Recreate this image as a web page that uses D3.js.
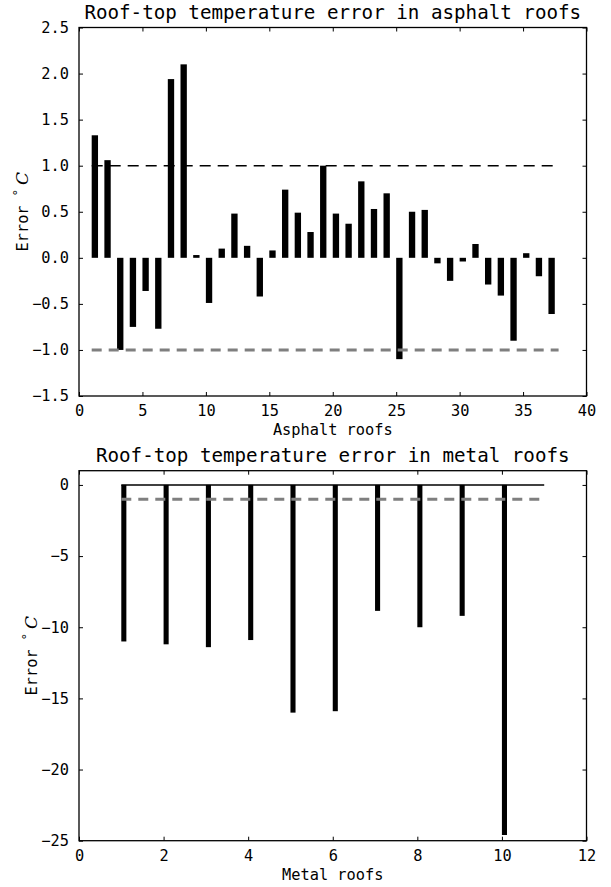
<!DOCTYPE html>
<html>
<head>
<meta charset="utf-8">
<script src="https://cdn.jsdelivr.net/npm/d3@7"></script>
<style>
  body { margin: 0; background: #fff; }
  text { font-family: "DejaVu Sans Mono", monospace; fill: #000; }
</style>
</head>
<body>
<svg id="chart" width="611" height="887"></svg>
<script>
// asphalt roofs, roof number 1..37
var asphaltIds = d3.range(1, 38);
var asphaltErr = [1.33, 1.06, -1.0, -0.75, -0.36, -0.77, 1.94, 2.10, 0.03, -0.49,
  0.10, 0.48, 0.13, -0.42, 0.08, 0.74, 0.49, 0.28, 1.0, 0.48,
  0.37, 0.83, 0.53, 0.70, -1.10, 0.50, 0.52, -0.06, -0.25, -0.04,
  0.15, -0.29, -0.41, -0.90, 0.05, -0.20, -0.61];
var asphaltXTicks = [0, 5, 10, 15, 20, 25, 30, 35, 40];
var asphaltYTicks = [-1.5, -1.0, -0.5, 0.0, 0.5, 1.0, 1.5, 2.0, 2.5];

// metal roofs, roof number 1..10
var metalIds = d3.range(1, 11);
var metalErr = [-11.0, -11.2, -11.4, -10.9, -16.0, -15.9, -8.85, -10.0, -9.2, -24.6];
var metalXTicks = [0, 2, 4, 6, 8, 10, 12];
var metalYTicks = [-25, -20, -15, -10, -5, 0];

var svg = d3.select("#chart");
var left = 79, right = 586.5;

function fmtMinus(s) { return s.replace("-", "\u2212"); }

function panel(opt) {
  var x = d3.scaleLinear().domain(opt.xDomain).range([left, right]);
  var y = d3.scaleLinear().domain(opt.yDomain).range([opt.bottom, opt.top]);
  var g = svg.append("g");

  // bars (left edge at roof number, like old matplotlib bar)
  g.selectAll("rect.bar")
    .data(opt.ids)
    .enter()
    .append("rect")
    .attr("class", "bar")
    .attr("x", function(d) { return x(d); })
    .attr("width", function(d) { return x(d + opt.barW) - x(d); })
    .attr("y", function(d, i) { return y(Math.max(0, opt.values[i])); })
    .attr("height", function(d, i) { return Math.abs(y(opt.values[i]) - y(0)); })
    .attr("fill", "#000");

  // reference lines
  opt.lines.forEach(function(l) {
    g.append("line")
      .attr("x1", x(l.x0)).attr("x2", x(l.x1))
      .attr("y1", y(l.v)).attr("y2", y(l.v))
      .attr("stroke", l.color)
      .attr("stroke-width", l.w)
      .attr("stroke-dasharray", l.dash || null);
  });

  // inward ticks on all four sides
  var tl = 4;
  var xa = g.append("g").attr("transform", "translate(0," + opt.bottom + ")")
    .call(d3.axisBottom(x).tickValues(opt.xTicks).tickSizeInner(-tl).tickSizeOuter(0).tickPadding(9)
      .tickFormat(function(d) { return fmtMinus(d3.format("d")(d)); }));
  var xt = g.append("g").attr("transform", "translate(0," + opt.top + ")")
    .call(d3.axisTop(x).tickValues(opt.xTicks).tickSizeInner(-tl).tickSizeOuter(0).tickFormat(""));
  var ya = g.append("g").attr("transform", "translate(" + left + ",0)")
    .call(d3.axisLeft(y).tickValues(opt.yTicks).tickSizeInner(-tl).tickSizeOuter(0).tickPadding(10)
      .tickFormat(function(d) { return fmtMinus(opt.yFmt(d)); }));
  var yr = g.append("g").attr("transform", "translate(" + right + ",0)")
    .call(d3.axisRight(y).tickValues(opt.yTicks).tickSizeInner(-tl).tickSizeOuter(0).tickFormat(""));
  [xa, xt, ya, yr].forEach(function(a) {
    a.select(".domain").remove();
    a.selectAll(".tick line").attr("stroke", "#000").attr("stroke-width", 1);
    a.selectAll(".tick text").attr("font-size", 15.3).attr("fill", "#000")
      .style("font-family", "DejaVu Sans Mono");
  });
  xa.selectAll(".tick text").attr("dy", "0.71em");

  // frame
  g.append("rect")
    .attr("x", left).attr("y", opt.top)
    .attr("width", right - left).attr("height", opt.bottom - opt.top)
    .attr("fill", "none").attr("stroke", "#000").attr("stroke-width", 1.3);

  // title
  g.append("text")
    .attr("x", (left + right) / 2).attr("y", opt.top - 9)
    .attr("text-anchor", "middle").attr("font-size", 19.2)
    .text(opt.title);

  // x label
  g.append("text")
    .attr("x", (left + right) / 2).attr("y", opt.bottom + 39)
    .attr("text-anchor", "middle").attr("font-size", 15.3)
    .text(opt.xLabel);

  // y label: Error °C
  var yl = g.append("text")
    .attr("transform", "translate(" + opt.yLabelX + "," + ((opt.top + opt.bottom) / 2) + ") rotate(-90)")
    .attr("text-anchor", "middle").attr("font-size", 15.3);
  yl.append("tspan").text("Error ");
  yl.append("tspan").attr("font-size", 12).attr("dy", -6).text("\u00b0");
  yl.append("tspan").attr("dy", 6).attr("dx", 4).attr("font-size", 17).attr("font-style", "italic")
    .style("font-family", "DejaVu Serif").text("C");
}

panel({
  ids: asphaltIds, values: asphaltErr, barW: 0.5,
  xDomain: [0, 40], yDomain: [-1.5, 2.5],
  xTicks: asphaltXTicks, yTicks: asphaltYTicks,
  yFmt: d3.format(".1f"),
  top: 27.5, bottom: 396,
  title: "Roof-top temperature error in asphalt roofs",
  xLabel: "Asphalt roofs", yLabelX: 28,
  lines: [
    { x0: 1, x1: 37.8, v: 1, color: "#000", w: 1.5, dash: "11,7" },
    { x0: 1, x1: 37.8, v: -1, color: "#7f7f7f", w: 3, dash: "10,7" }
  ]
});

panel({
  ids: metalIds, values: metalErr, barW: 0.12,
  xDomain: [0, 12], yDomain: [-25, 1],
  xTicks: metalXTicks, yTicks: metalYTicks,
  yFmt: d3.format("d"),
  top: 470.7, bottom: 840.7,
  title: "Roof-top temperature error in metal roofs",
  xLabel: "Metal roofs", yLabelX: 37,
  lines: [
    { x0: 1, x1: 11, v: 0, color: "#000", w: 1.5 },
    { x0: 1, x1: 11, v: -1, color: "#7f7f7f", w: 3, dash: "10,7" }
  ]
});
</script>
</body>
</html>
